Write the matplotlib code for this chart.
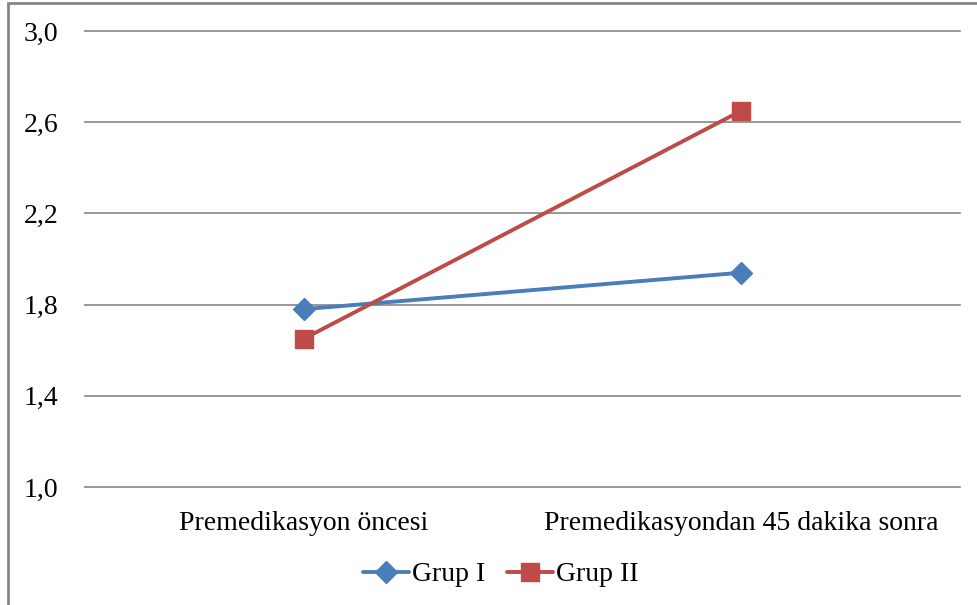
import matplotlib.pyplot as plt
from matplotlib.patches import Rectangle

plt.rcParams['font.family'] = ['Liberation Serif', 'DejaVu Serif']

categories = ["Premedikasyon öncesi", "Premedikasyondan 45 dakika sonra"]
grup1 = [1.78, 1.94]
grup2 = [1.65, 2.65]
yticks = [1.0, 1.4, 1.8, 2.2, 2.6, 3.0]

fig = plt.figure(figsize=(9.78, 6.05), dpi=100)
ax = fig.add_axes([0.0869, 0.195, 0.8947, 0.7538])

x = [0.5, 1.5]
ax.plot(x, grup1, color="#4A7EBB", lw=2.8, marker="D", markersize=11,
        label="Grup I", solid_capstyle="round", clip_on=False)
ax.plot(x, grup2, color="#BE4B48", lw=2.8, marker="s", markersize=13,
        label="Grup II", solid_capstyle="round", clip_on=False)

ax.set_xlim(0, 2)
ax.set_ylim(1.0, 3.0)
ax.set_yticks(yticks)
ax.set_yticklabels([f"{v:.1f}".replace(".", ",") for v in yticks], fontsize=20)
ax.set_xticks(x)
ax.set_xticklabels(categories, fontsize=20)
ax.tick_params(axis="both", length=0)
ax.tick_params(axis="y", pad=19)
ax.tick_params(axis="x", pad=17)
ax.grid(axis="y", color="#868686", lw=1.2)
ax.set_axisbelow(True)
for s in ax.spines.values():
    s.set_visible(False)
for g in ax.get_ygridlines():
    g.set_clip_on(False)

fig.legend(loc="center", bbox_to_anchor=(0.512, 0.050), ncol=2, frameon=False,
           fontsize=20, handlelength=1.65, handletextpad=0.1, columnspacing=0.8)

# outer chart border
fig.patches.append(Rectangle((8 / 978, -0.01), 1.0, 1 - 3 / 605 + 0.01,
                             transform=fig.transFigure, fill=False,
                             edgecolor="#868686", lw=2))

fig.savefig("out.png", dpi=100)
